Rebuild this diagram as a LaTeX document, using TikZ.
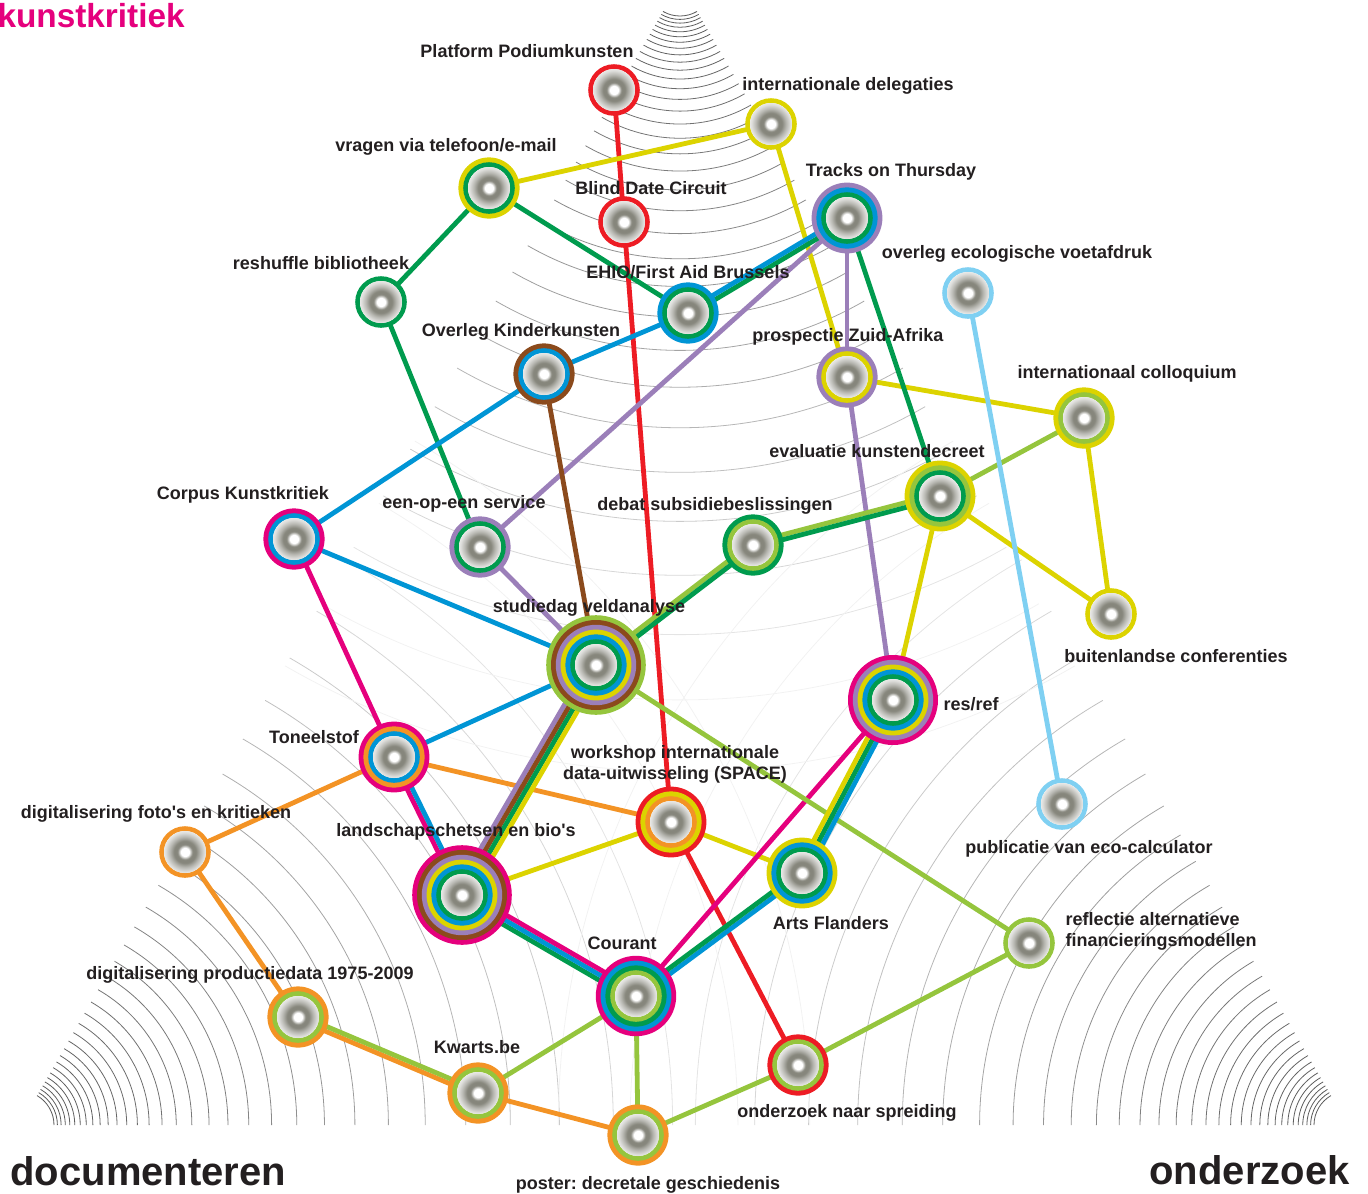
\documentclass[tikz,border=0pt]{standalone}
\usepackage{fontspec}
\setmainfont{Liberation Sans}
\usetikzlibrary{calc}

\definecolor{cred}{HTML}{ED1C24}
\definecolor{cyellow}{HTML}{DCD300}
\definecolor{cgreen}{HTML}{009B4E}
\definecolor{clgreen}{HTML}{95C53D}
\definecolor{cblue}{HTML}{0095D5}
\definecolor{cpurple}{HTML}{9B7FB9}
\definecolor{cbrown}{HTML}{8B4A1C}
\definecolor{cmagenta}{HTML}{E5007D}
\definecolor{corange}{HTML}{F39325}
\definecolor{clblue}{HTML}{7FD0F2}
\definecolor{ctext}{HTML}{231F20}
\definecolor{coregray}{HTML}{86867C}

\pgfdeclareradialshading{stationcore}{\pgfpoint{0bp}{0bp}}{%
  color(0bp)=(white); color(5bp)=(white); color(9bp)=(coregray); color(13bp)=(coregray);
  color(18bp)=(coregray!60!white); color(23bp)=(coregray!28!white); color(28bp)=(coregray!8!white); color(31bp)=(white); color(50bp)=(white)}

\tikzset{every picture/.style={line width=0.75pt},
  link/.style={line width=3.6pt},
  arcline/.style={line width=0.6pt},
  lbl/.style={inner sep=0pt, text=ctext, font=\fontsize{13.5}{15.75}\selectfont\bfseries},
  corner/.style={inner sep=0pt, text=ctext, font=\fontsize{30}{32}\selectfont\bfseries}
}
\frenchspacing

% rings of a station: name, number of rings, colours from outside in
\newcommand{\station}[3]{%
  \foreach \c [count=\i] in {#3}
    \fill[\c] (#1) circle ({21+(#2-\i+1)*4.8});
  \fill[white] (#1) circle (21);
  \shade[shading=stationcore] (#1) circle (21);
}
% parallel links between two stations: from, to, number of lines, colours
\newcommand{\bundle}[4]{%
  \foreach \c [count=\i] in {#4}{
    \pgfmathsetmacro\off{((#3+1)/2-\i)*3.6}
    \draw[link,\c] ($(#1)!\off pt!90:(#2)$) -- ($(#2)!\off pt!-90:(#1)$);
  }
}

\begin{document}
\begin{tikzpicture}[x=0.75pt,y=0.75pt,yscale=-1,xscale=1]
\useasboundingbox (0,0) rectangle (1368,1193);

% background arcs
\foreach \k in {0,...,33}{
  \pgfmathsetmacro\r{34*1.1^\k}
  \pgfmathsetmacro\g{max(5,68-0.088*\r)}
  \draw[arcline, black!\g] (20,1125) ++(0:\r) arc[start angle=0, end angle=-60, radius=\r];
  \draw[arcline, black!\g] (1348,1125) ++(180:\r) arc[start angle=180, end angle=240, radius=\r];
  \draw[arcline, black!\g] (680,-18) ++(60:\r) arc[start angle=60, end angle=120, radius=\r];
}

% stations
\coordinate (plat) at (614,90);
\coordinate (deleg) at (771,124);
\coordinate (vragen) at (489,188);
\coordinate (blind) at (624,222);
\coordinate (tracks) at (847,218);
\coordinate (reshuf) at (381,302);
\coordinate (ehio) at (688,313);
\coordinate (ecolog) at (968,293);
\coordinate (kinder) at (544,374);
\coordinate (prosp) at (847,377);
\coordinate (colloq) at (1084,418);
\coordinate (eval) at (940,496);
\coordinate (debat) at (753,545);
\coordinate (corpus) at (294,539);
\coordinate (eenop) at (480,547);
\coordinate (studie) at (596,665);
\coordinate (resref) at (893,700);
\coordinate (buiten) at (1111,614);
\coordinate (tonel) at (394,757);
\coordinate (work) at (671,822);
\coordinate (ecocalc) at (1062,804);
\coordinate (foto) at (185,852);
\coordinate (landsch) at (462,895);
\coordinate (arts) at (802,873);
\coordinate (reflec) at (1029,943);
\coordinate (courant) at (636,996);
\coordinate (prod) at (298,1017);
\coordinate (kwarts) at (478,1093);
\coordinate (spreid) at (798,1065);
\coordinate (poster) at (638,1135);

% red
\bundle{plat}{blind}{1}{cred}
\bundle{blind}{work}{1}{cred}
\bundle{work}{spreid}{1}{cred}
% yellow
\bundle{vragen}{deleg}{1}{cyellow}
\bundle{deleg}{prosp}{1}{cyellow}
\bundle{prosp}{colloq}{1}{cyellow}
\bundle{colloq}{buiten}{1}{cyellow}
\bundle{buiten}{eval}{1}{cyellow}
\bundle{eval}{resref}{1}{cyellow}
\bundle{arts}{work}{1}{cyellow}
\bundle{work}{landsch}{1}{cyellow}
% green
\bundle{reshuf}{vragen}{1}{cgreen}
\bundle{vragen}{ehio}{1}{cgreen}
\bundle{tracks}{eval}{1}{cgreen}
\bundle{reshuf}{eenop}{1}{cgreen}
% blue
\bundle{corpus}{kinder}{1}{cblue}
\bundle{kinder}{ehio}{1}{cblue}
\bundle{corpus}{studie}{1}{cblue}
\bundle{studie}{tonel}{1}{cblue}
% purple
\bundle{tracks}{eenop}{1}{cpurple}
\bundle{eenop}{studie}{1}{cpurple}
\bundle{tracks}{prosp}{1}{cpurple}
\bundle{prosp}{resref}{1}{cpurple}
% brown, magenta, orange
\bundle{kinder}{studie}{1}{cbrown}
\bundle{corpus}{tonel}{1}{cmagenta}
\bundle{courant}{resref}{1}{cmagenta}
\bundle{foto}{tonel}{1}{corange}
\bundle{tonel}{work}{1}{corange}
\bundle{foto}{prod}{1}{corange}
\bundle{kwarts}{poster}{1}{corange}
% light green, light blue
\bundle{eval}{colloq}{1}{clgreen}
\bundle{studie}{reflec}{1}{clgreen}
\bundle{reflec}{spreid}{1}{clgreen}
\bundle{spreid}{poster}{1}{clgreen}
\bundle{poster}{courant}{1}{clgreen}
\bundle{courant}{kwarts}{1}{clgreen}
\bundle{ecolog}{ecocalc}{1}{clblue}
% shared stretches
\bundle{ehio}{tracks}{2}{cgreen,cblue}
\bundle{eval}{debat}{2}{clgreen,cgreen}
\bundle{debat}{studie}{2}{clgreen,cgreen}
\bundle{studie}{landsch}{4}{cpurple,cbrown,cgreen,cyellow}
\bundle{tonel}{landsch}{2}{cmagenta,cblue}
\bundle{landsch}{courant}{3}{cgreen,cblue,cmagenta}
\bundle{courant}{arts}{2}{cblue,cgreen}
\bundle{arts}{resref}{3}{cblue,cgreen,cyellow}
\bundle{prod}{kwarts}{2}{corange,clgreen}

\station{plat}{1}{cred}
\station{deleg}{1}{cyellow}
\station{vragen}{2}{cyellow,cgreen}
\station{blind}{1}{cred}
\station{tracks}{3}{cpurple,cblue,cgreen}
\station{reshuf}{1}{cgreen}
\station{ehio}{2}{cblue,cgreen}
\station{ecolog}{1}{clblue}
\station{kinder}{2}{cbrown,cblue}
\station{prosp}{2}{cpurple,cyellow}
\station{colloq}{2}{cyellow,clgreen}
\station{eval}{3}{cyellow,clgreen,cgreen}
\station{debat}{2}{cgreen,clgreen}
\station{corpus}{2}{cmagenta,cblue}
\station{eenop}{2}{cpurple,cgreen}
\station{studie}{6}{clgreen,cbrown,cpurple,cyellow,cblue,cgreen}
\station{resref}{5}{cmagenta,cpurple,cyellow,cblue,cgreen}
\station{buiten}{1}{cyellow}
\station{tonel}{3}{cmagenta,corange,cblue}
\station{work}{3}{cred,cyellow,corange}
\station{ecocalc}{1}{clblue}
\station{foto}{1}{corange}
\station{landsch}{6}{cmagenta,cbrown,cpurple,cyellow,cblue,cgreen}
\station{arts}{3}{cyellow,cblue,cgreen}
\station{reflec}{1}{clgreen}
\station{courant}{4}{cmagenta,cblue,cgreen,clgreen}
\station{prod}{2}{corange,clgreen}
\station{kwarts}{2}{corange,clgreen}
\station{spreid}{2}{cred,clgreen}
\station{poster}{2}{corange,clgreen}

% Text Node
\node[lbl, anchor=base] (lplat) at (527,57) {Platform Podiumkunsten};
\node[lbl, anchor=base] (ldeleg) at (848,90) {internationale delegaties};
\node[lbl, anchor=base] (lvragen) at (446,151) {vragen via telefoon/e-mail};
\node[lbl, anchor=base] (lblind) at (651,194) {Blind Date Circuit};
\node[lbl, anchor=base] (ltracks) at (891,176) {Tracks on Thursday};
\node[lbl, anchor=base] (lreshuf) at (321,269) {reshuffle bibliotheek};
\node[lbl, anchor=base] (lehio) at (688,278) {EHIO/First Aid Brussels};
\node[lbl, anchor=base] (lecolog) at (1017,258) {overleg ecologische voetafdruk};
\node[lbl, anchor=base] (lkinder) at (521,336) {Overleg Kinderkunsten};
\node[lbl, anchor=base] (lprosp) at (848,341) {prospectie Zuid-Afrika};
\node[lbl, anchor=base] (lcolloq) at (1127,378) {internationaal colloquium};
\node[lbl, anchor=base] (leval) at (877,457) {evaluatie kunstendecreet};
\node[lbl, anchor=base] (ldebat) at (715,510) {debat subsidiebeslissingen};
\node[lbl, anchor=base] (lcorpus) at (243,499) {Corpus Kunstkritiek};
\node[lbl, anchor=base] (leenop) at (464,508) {een-op-een service};
\node[lbl, anchor=base] (lstudie) at (589,612) {studiedag veldanalyse};
\node[lbl, anchor=base west] (lresref) at (943,710) {res/ref};
\node[lbl, anchor=base] (lbuiten) at (1176,662) {buitenlandse conferenties};
\node[lbl, anchor=base] (ltonel) at (314,743) {Toneelstof};
\node[lbl, anchor=north, align=center] (lwork) at (675,745) {workshop internationale\\data-uitwisseling (SPACE)};
\node[lbl, anchor=base] (lecocalc) at (1089,853) {publicatie van eco-calculator};
\node[lbl, anchor=base] (lfoto) at (156,818) {digitalisering foto\textquotesingle s en kritieken};
\node[lbl, anchor=base] (llandsch) at (456,836) {landschapschetsen en bio\textquotesingle s};
\node[lbl, anchor=base] (larts) at (831,929) {Arts Flanders};
\node[lbl, anchor=north west, align=left] (lreflec) at (1065,912) {reflectie alternatieve\\financieringsmodellen};
\node[lbl, anchor=base] (lcourant) at (622,949) {Courant};
\node[lbl, anchor=base] (lprod) at (250,979) {digitalisering productiedata 1975-2009};
\node[lbl, anchor=base] (lkwarts) at (477,1053) {Kwarts.be};
\node[lbl, anchor=base] (lspreid) at (847,1117) {onderzoek naar spreiding};
\node[lbl, anchor=base] (lposter) at (648,1189) {poster: decretale geschiedenis};

% corner titles
\node[corner, anchor=base west, text=cmagenta, font=\fontsize{25}{27}\selectfont\bfseries] (lkunst) at (-3,27) {kunstkritiek};
\node[corner, anchor=base west] (ldoc) at (10,1185) {documenteren};
\node[corner, anchor=base east] (lond) at (1350,1184) {onderzoek};
\end{tikzpicture}
\end{document}
